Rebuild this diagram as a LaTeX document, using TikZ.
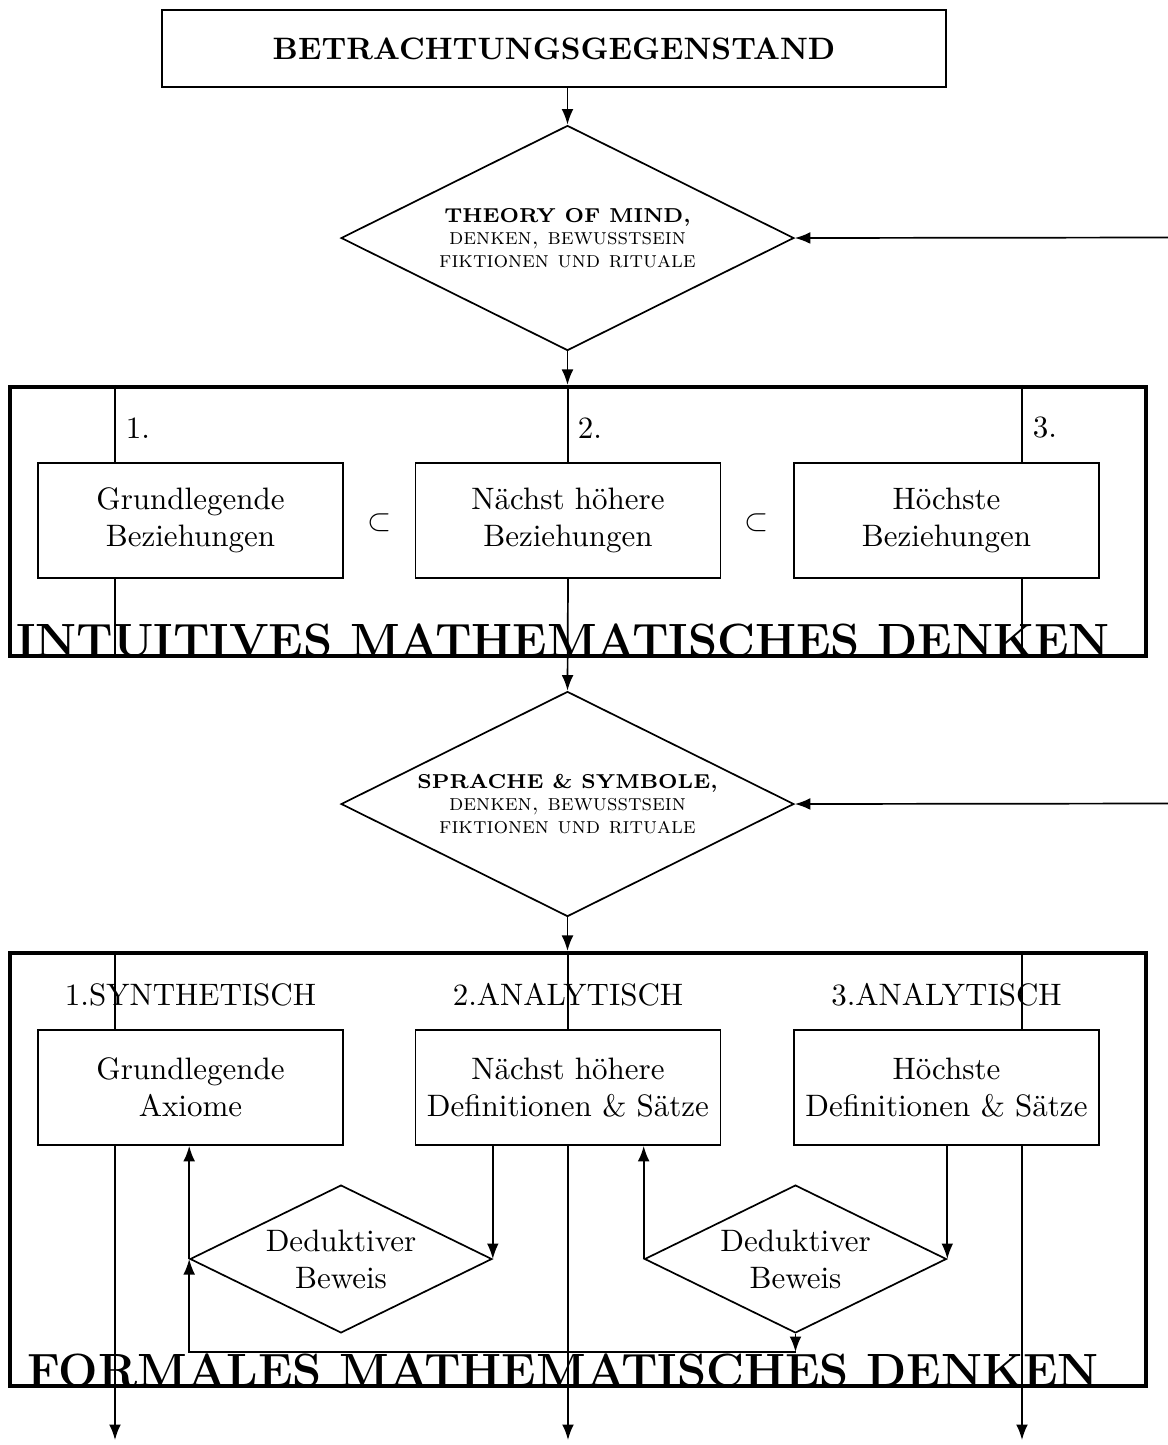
\documentclass[tikz,border=0pt]{standalone}
\usetikzlibrary{arrows.meta, positioning, shapes.geometric}
\tikzset{
  kasten/.style={draw, line width=0.55pt, minimum width=98.4pt, minimum height=37.1pt, align=center, inner sep=2pt},
  raute/.style={draw, diamond, line width=0.55pt, align=center, inner sep=0pt, aspect=2},
  rahmen/.style={draw, line width=1.3pt, minimum width=366.5pt, inner sep=0pt},
  titel/.style={font=\fontsize{15.05}{18}\selectfont\bfseries, anchor=base, inner sep=0pt},
  klein/.style={font=\fontsize{7.4}{7.2}\selectfont},
  pfeil/.style={-{Latex[length=5pt,width=3.8pt]}, line width=0.55pt},
  linie/.style={line width=0.55pt},
}
\newcommand{\fett}[1]{{\fontsize{6.5}{7.2}\selectfont\bfseries #1}}

\begin{document}
\begin{tikzpicture}[x=0.3226pt, y=-0.3226pt]
  \useasboundingbox (0,0) rectangle (1168,1445);
  % oberer Teil
  \node[draw, line width=0.55pt, minimum width=252.9pt, minimum height=24.8pt, font=\bfseries] (gegenstand) at (554,48.5) {BETRACHTUNGSGEGENSTAND};
  \node[raute, klein, minimum width=146.1pt, minimum height=72.6pt] (tom) at (567.5,238)
    {\fett{THEORY OF MIND,}\\ \textsc{denken, bewusstsein}\\ \textsc{fiktionen und rituale}};
  \coordinate (rand1) at (1168,237.5);

  % intuitives Denken
  \node[rahmen, minimum height=86.8pt] (intuitiv) at (578,521.5) {};
  \node[kasten] (b1) at (190.5,520.5) {Grundlegende\\ Beziehungen};
  \node[kasten] (b2) at (568,520.5) {Nächst höhere\\ Beziehungen};
  \node[kasten] (b3) at (946.5,520.5) {Höchste\\ Beziehungen};
  \node at (379.5,523) {$\subset$};
  \node at (757,523) {$\subset$};
  \coordinate (sl) at (115,0);
  \coordinate (sr) at (1022,0);
  \node[anchor=west] (n1) at (115,428) {1.};
  \node[anchor=west] (n2) at (567,428) {2.};
  \node[anchor=west] (n3) at (1022,428) {3.};
  \node[titel] (titel1) at (563,656) {INTUITIVES MATHEMATISCHES DENKEN};

  \node[raute, klein, minimum width=146.1pt, minimum height=72.6pt] (sprache) at (567.5,804)
    {\fett{SPRACHE \& SYMBOLE,}\\ \textsc{denken, bewusstsein}\\ \textsc{fiktionen und rituale}};
  \coordinate (rand2) at (1168,803.5);

  % formales Denken
  \node[rahmen, minimum height=139.7pt] (formal) at (578,1169.5) {};
  \node (s1) at (190.5,995) {1.SYNTHETISCH};
  \node (s2) at (568,995) {2.ANALYTISCH};
  \node (s3) at (946.5,995) {3.ANALYTISCH};
  \node[kasten] (a1) at (190.5,1087.5) {Grundlegende\\ Axiome};
  \node[kasten] (a2) at (568,1087.5) {Nächst höhere\\ Definitionen \& Sätze};
  \node[kasten] (a3) at (946.5,1087.5) {Höchste\\ Definitionen \& Sätze};
  \node[raute, minimum width=97.4pt, minimum height=47.7pt] (beweis1) at (341,1259) {Deduktiver\\ Beweis};
  \node[raute, minimum width=97.4pt, minimum height=47.7pt] (beweis2) at (795.5,1259) {Deduktiver\\ Beweis};
  \coordinate (schleife) at (795.5,1352);
  \coordinate (ende1) at (115,1440);
  \coordinate (ende2) at (568,1440);
  \coordinate (ende3) at (1022,1440);
  \node[titel] (titel2) at (563,1386) {FORMALES MATHEMATISCHES DENKEN};

  % Verbindungen
  \draw[pfeil] (gegenstand.south -| tom) -- (tom.north);
  \draw[pfeil] (rand1) -- (tom.east);
  \draw[pfeil] (tom.south) -- (tom.south |- intuitiv.north);
  \draw[linie] (b2 |- intuitiv.north) -- (b2.north);
  \draw[linie] (sl |- intuitiv.north) -- (sl |- b1.north);
  \draw[linie] (sl |- b1.south) -- (sl |- intuitiv.south);
  \draw[linie] (sr |- intuitiv.north) -- (sr |- b3.north);
  \draw[linie] (sr |- b3.south) -- (sr |- intuitiv.south);
  \draw[pfeil] (b2.south) -- (sprache.north);
  \draw[pfeil] (rand2) -- (sprache.east);
  \draw[pfeil] (sprache.south) -- (sprache.south |- formal.north);
  \draw[linie] (a2 |- formal.north) -- (a2.north);
  \draw[pfeil] (a2.south) -- (ende2);
  \draw[linie] (sl |- formal.north) -- (sl |- a1.north);
  \draw[pfeil] (sl |- a1.south) -- (ende1);
  \draw[linie] (sr |- formal.north) -- (sr |- a3.north);
  \draw[pfeil] (sr |- a3.south) -- (ende3);
  \draw[pfeil] (a2.south -| beweis1.east) -- (beweis1.east);
  \draw[pfeil] (beweis1.west) -- (beweis1.west |- a1.south);
  \draw[pfeil] (a3.south -| beweis2.east) -- (beweis2.east);
  \draw[pfeil] (beweis2.west) -- (beweis2.west |- a2.south);
  \draw[pfeil] (beweis2.south) -- (schleife);
  \draw[pfeil] (schleife) -| (beweis1.west);
\end{tikzpicture}
\end{document}
